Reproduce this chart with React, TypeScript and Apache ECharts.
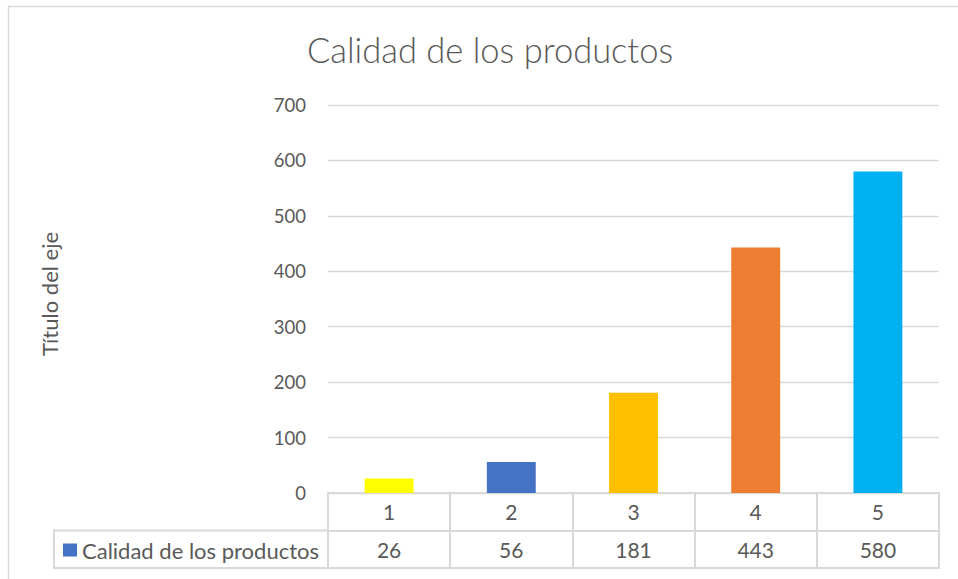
import React, { useEffect, useRef } from "react";
import * as echarts from "echarts";

const chartTitle = "Calidad de los productos";
const seriesName = "Calidad de los productos";
const axisTitle = "Título del eje";
const categories = ["1", "2", "3", "4", "5"];
const values = [26, 56, 181, 443, 580];
const barColors = ["#FFFF00", "#4472C4", "#FFC000", "#ED7D31", "#00B0F0"];
const seriesColor = "#4472C4";
const yTicks = { min: 0, max: 700, interval: 100 };

const FONT = "Lato, 'Noto Sans', sans-serif";
const TEXT = "#595959";
const LINE = "#D9D9D9";

export default function App() {
  const ref = useRef<HTMLDivElement>(null);
  useEffect(() => {
    if (!ref.current) return;
    const chart = echarts.init(ref.current, null, { renderer: "svg" });
    const gridLeft = 328;
    const gridRight = 19;
    const gridTop = 105;
    const gridBottom = 86;
    const axisY = 579 - gridBottom;
    const rowH = 37.5;
    chart.setOption({
      animation: false,
      backgroundColor: "#FFFFFF",
      textStyle: { fontFamily: FONT },
      title: {
        text: chartTitle,
        left: 485,
        textAlign: "center",
        top: 27,
        textStyle: { fontFamily: FONT, fontSize: 34.5, fontWeight: 300, color: TEXT },
      },
      legend: {
        left: 63,
        top: 539,
        padding: 0,
        selectedMode: false,
        itemWidth: 14,
        itemHeight: 13,
        icon: "rect",
        textStyle: { fontFamily: FONT, fontSize: 22, color: TEXT, padding: [0, 0, 0, 0] },
        data: [seriesName],
      },
      grid: { left: gridLeft, right: gridRight, top: gridTop, bottom: gridBottom },
      xAxis: [
        {
          type: "category",
          data: categories,
          position: "bottom",
          axisLine: { show: true, lineStyle: { color: LINE, width: 2 } },
          axisTick: { show: true, length: rowH * 2, interval: 0, lineStyle: { color: LINE, width: 2 } },
          axisLabel: { margin: 8, fontSize: 21, color: TEXT, fontFamily: FONT, interval: 0 },
          splitLine: { show: false },
        },
        {
          type: "category",
          data: values.map((v) => String(v)),
          position: "bottom",
          offset: rowH,
          axisLine: { show: true, lineStyle: { color: LINE, width: 2 } },
          axisTick: { show: false },
          axisLabel: { margin: 8, fontSize: 21, color: TEXT, fontFamily: FONT, interval: 0 },
          splitLine: { show: false },
        },
        {
          type: "category",
          data: categories,
          position: "bottom",
          offset: rowH * 2,
          axisLine: { show: true, lineStyle: { color: LINE, width: 2 } },
          axisTick: { show: false },
          axisLabel: { show: false },
          splitLine: { show: false },
        },
      ],
      yAxis: {
        type: "value",
        min: yTicks.min,
        max: yTicks.max,
        interval: yTicks.interval,
        name: axisTitle,
        nameLocation: "middle",
        nameRotate: 90,
        nameGap: 268,
        nameTextStyle: { fontFamily: FONT, fontSize: 22, color: TEXT, padding: [0, 0, 0, 10] },
        axisLine: { show: false },
        axisTick: { show: false },
        axisLabel: { margin: 22, fontSize: 18.5, color: TEXT, fontFamily: FONT },
        splitLine: { show: true, lineStyle: { color: LINE, width: 1.3 } },
      },
      series: [
        {
          name: seriesName,
          type: "bar",
          xAxisIndex: 0,
          barWidth: "40%",
          itemStyle: { color: seriesColor },
          data: values.map((v, i) => ({ value: v, itemStyle: { color: barColors[i] } })),
        },
      ],
      graphic: [
        {
          type: "rect",
          shape: { x: 8.5, y: 6.5, width: 1200, height: 1200 },
          style: { fill: "none", stroke: LINE, lineWidth: 1.5 },
          silent: true,
        },
        {
          type: "line",
          shape: { x1: 54, y1: axisY + rowH, x2: gridLeft, y2: axisY + rowH },
          style: { stroke: LINE, lineWidth: 2 },
        },
        {
          type: "line",
          shape: { x1: 54, y1: axisY + rowH * 2, x2: gridLeft, y2: axisY + rowH * 2 },
          style: { stroke: LINE, lineWidth: 2 },
        },
        {
          type: "line",
          shape: { x1: 54, y1: axisY + rowH - 1, x2: 54, y2: axisY + rowH * 2 + 1 },
          style: { stroke: LINE, lineWidth: 2 },
        },
      ],
    });
    return () => chart.dispose();
  }, []);
  return (
    <div
      ref={ref}
      style={{ position: "fixed", left: 0, top: 0, width: 958, height: 579, background: "#fff" }}
    />
  );
}
